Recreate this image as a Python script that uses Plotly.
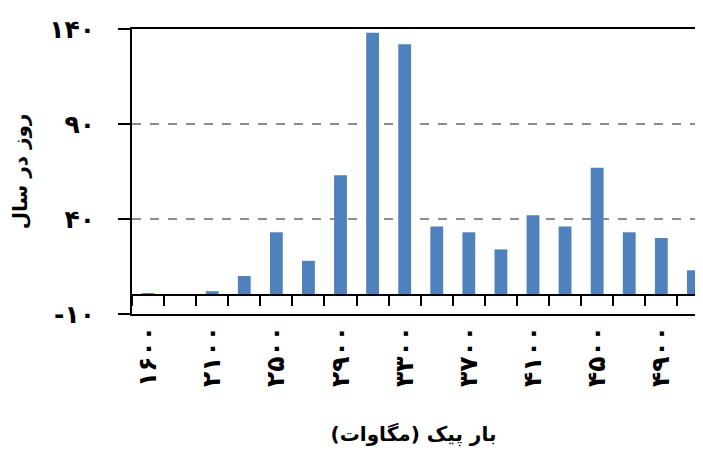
import plotly.graph_objects as go

categories = ["1600", "1900", "2100", "2300", "2500", "2700", "2900", "3100", "3300",
              "3500", "3700", "3900", "4100", "4300", "4500", "4700", "4900", "5100"]
days = [1, 0, 2, 10, 33, 18, 63, 138, 132, 36, 33, 24, 42, 36, 67, 33, 30, 13]
shown_ticks = categories[::2]
y_ticks = [-10, 40, 90, 140]
x_title = "بار پیک (مگاوات)"
y_title = "روز در سال"

FA = str.maketrans("0123456789", "۰۱۲۳۴۵۶۷۸۹")
def fa(v):
    return str(v).translate(FA)

FONT = "DejaVu Sans"
xrange_ = [-0.5, 17.05]

fig = go.Figure()
fig.add_trace(go.Bar(x=categories, y=days, marker=dict(color="#4f81bd", line=dict(width=0)),
                     showlegend=False))
fig.add_trace(go.Scatter(x=categories, y=[None] * len(categories), xaxis="x2", yaxis="y",
                         mode="lines", showlegend=False, hoverinfo="skip"))

fig.update_layout(
    width=687, height=439,
    margin=dict(l=124, r=0, t=21, b=133, autoexpand=False),
    paper_bgcolor="white", plot_bgcolor="white",
    bargap=0.6,
    font=dict(family=FONT, color="black", size=25),
    xaxis=dict(
        type="category", categoryorder="array", categoryarray=categories,
        range=xrange_, showline=True, mirror=True, linecolor="black", linewidth=2,
        ticks="", tickvals=shown_ticks, ticktext=[fa(c) for c in shown_ticks],
        tickangle=-90, ticklabelstandoff=0, showgrid=False, automargin=False,
        tickfont=dict(size=25, weight="bold"),
        title=dict(text=x_title, font=dict(size=20, weight="bold"), standoff=46),
    ),
    xaxis2=dict(
        type="category", categoryorder="array", categoryarray=categories,
        overlaying="x", anchor="free", position=(0 - y_ticks[0]) / (y_ticks[-1] - y_ticks[0]),
        side="bottom", range=xrange_, showline=True, linecolor="black", linewidth=2,
        ticks="outside", tickson="boundaries", ticklen=10, tickwidth=2, tickcolor="black",
        showticklabels=False, showgrid=False, automargin=False,
    ),
    yaxis=dict(
        range=[y_ticks[0], y_ticks[-1]], tickvals=y_ticks, ticktext=[fa(v) if v >= 0 else "-" + fa(-v) for v in y_ticks],
        ticks="outside", ticklen=12, tickwidth=2, tickcolor="black",
        showline=True, linecolor="black", linewidth=2, zeroline=False,
        showgrid=True, griddash="dash", gridcolor="#8c8c8c", gridwidth=2,
        ticklabelstandoff=18, automargin=False,
        tickfont=dict(size=25, weight="bold"),
        title=dict(text=y_title, font=dict(size=20, weight="bold"), standoff=22),
    ),
)

fig.write_html("out.html")
